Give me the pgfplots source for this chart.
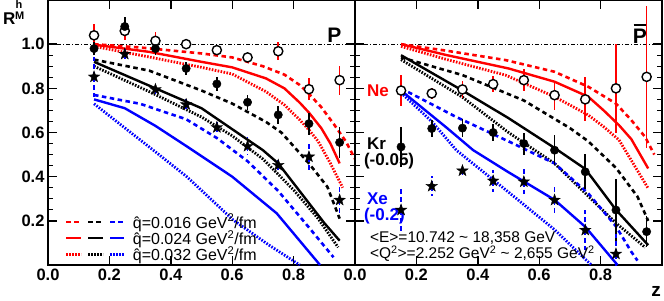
\documentclass[border=0pt]{standalone}
\usepackage{fontspec}
\setmainfont{Liberation Sans}
\usepackage{pgfplots}
\pgfplotsset{compat=1.18}

\pgfdeclareplotmark{fstar}{%
\pgfpathmoveto{\pgfpointpolar{90}{\pgfplotmarksize}}%
\pgfpathlineto{\pgfpointpolar{126}{0.4\pgfplotmarksize}}%
\pgfpathlineto{\pgfpointpolar{162}{\pgfplotmarksize}}%
\pgfpathlineto{\pgfpointpolar{198}{0.4\pgfplotmarksize}}%
\pgfpathlineto{\pgfpointpolar{234}{\pgfplotmarksize}}%
\pgfpathlineto{\pgfpointpolar{270}{0.4\pgfplotmarksize}}%
\pgfpathlineto{\pgfpointpolar{306}{\pgfplotmarksize}}%
\pgfpathlineto{\pgfpointpolar{342}{0.4\pgfplotmarksize}}%
\pgfpathlineto{\pgfpointpolar{18}{\pgfplotmarksize}}%
\pgfpathlineto{\pgfpointpolar{54}{0.4\pgfplotmarksize}}%
\pgfpathclose\pgfusepathqfillstroke}

\tikzset{
 dsh/.style={line width=2.6pt, dash pattern=on 4.5pt off 3.5pt},
 sld/.style={line width=2.4pt},
 dtt/.style={line width=2.8pt, dash pattern=on 1.6pt off 1.4pt},
}

\pgfplotsset{
 panel/.style={
  width=307pt, height=265pt, scale only axis,
  xmin=0, xmax=1, ymin=0, ymax=1.2,
  xtick={0,0.2,0.4,0.6,0.8}, ytick={0.2,0.4,0.6,0.8,1.0},
  minor y tick num=3,
  tick align=inside,
  major tick length=9pt, minor tick length=5pt,
  axis line style={line width=1.6pt},
  every tick/.style={line width=1.4pt, black},
  tick label style={font=\fontsize{16.5}{18}\selectfont\bfseries},
  /pgf/number format/fixed, /pgf/number format/fixed zerofill,
  /pgf/number format/precision=1, /pgf/number format/assume math mode=true,
  clip=true,
 },
 ne/.style={only marks, mark=*, mark size=4.6pt, mark options={fill=white, draw=black, line width=1.4pt},
   error bars/.cd, y dir=both, y explicit, error mark=none, error bar style={red, line width=1.6pt}},
 kr/.style={only marks, black, mark=*, mark size=4.2pt,
   error bars/.cd, y dir=both, y explicit, error mark=none, error bar style={black, line width=1.6pt}},
 xe/.style={only marks, black, mark=fstar, mark size=6pt,
   error bars/.cd, y dir=both, y explicit, error mark=none, error bar style={blue, line width=1.6pt, dash pattern=on 5pt off 3pt}},
}

\begin{document}
\begin{tikzpicture}
\useasboundingbox (-48pt,-35pt) rectangle (616pt,265pt);

% ---------------- left panel (P) ----------------
\begin{axis}[panel, at={(0pt,0pt)},
  legend style={at={(axis cs:0.055,0.004)}, anchor=south west, draw=none, fill=none,
    font=\fontsize{16}{16}\selectfont, row sep=-3.5pt, inner sep=0pt, column sep=5pt},
  legend cell align=left]
\addlegendimage{legend image code/.code={\draw[red,dsh](0pt,0pt)--(15pt,0pt);\draw[black,dsh](22pt,0pt)--(37pt,0pt);\draw[blue,dsh](44pt,0pt)--(58pt,0pt);}}
\addlegendentry{\^q=0.016 GeV\textsuperscript{2}/fm}
\addlegendimage{legend image code/.code={\draw[red,sld](0pt,0pt)--(15pt,0pt);\draw[black,sld](22pt,0pt)--(37pt,0pt);\draw[blue,sld](44pt,0pt)--(58pt,0pt);}}
\addlegendentry{\^q=0.024 GeV\textsuperscript{2}/fm}
\addlegendimage{legend image code/.code={\draw[red,dtt](0pt,0pt)--(15pt,0pt);\draw[black,dtt](22pt,0pt)--(37pt,0pt);\draw[blue,dtt](44pt,0pt)--(58pt,0pt);}}
\addlegendentry{\^q=0.032 GeV\textsuperscript{2}/fm}

\addplot[forget plot, black, line width=0.8pt, dash pattern=on 4pt off 2pt on 1pt off 2pt] coordinates {(0,1)(1,1)};
% Ne
\addplot[forget plot, red, dsh] coordinates {(0.15,1.0)(0.3,0.985)(0.5,0.958)(0.6,0.94)(0.7,0.90)(0.77,0.862)(0.82,0.815)(0.85,0.775)(0.89,0.715)(0.93,0.64)(0.97,0.56)(1.0,0.48)};
\addplot[forget plot, red, sld] coordinates {(0.15,0.998)(0.33,0.965)(0.5,0.92)(0.6,0.895)(0.71,0.845)(0.77,0.80)(0.82,0.735)(0.85,0.69)(0.89,0.62)(0.92,0.55)(0.95,0.46)};
\addplot[forget plot, red, dtt] coordinates {(0.15,0.99)(0.3,0.95)(0.5,0.895)(0.6,0.865)(0.71,0.785)(0.77,0.725)(0.82,0.657)(0.85,0.612)(0.88,0.56)(0.92,0.46)(0.96,0.35)};
% Kr
\addplot[forget plot, black, dsh] coordinates {(0.15,0.93)(0.33,0.88)(0.5,0.79)(0.6,0.731)(0.71,0.648)(0.76,0.60)(0.85,0.46)(0.91,0.354)(0.95,0.21)};
\addplot[forget plot, black, sld] coordinates {(0.15,0.92)(0.35,0.80)(0.5,0.71)(0.6,0.615)(0.7,0.52)(0.75,0.46)(0.8,0.37)(0.85,0.28)(0.9,0.19)(0.95,0.11)};
\addplot[forget plot, black, dtt] coordinates {(0.15,0.90)(0.33,0.785)(0.5,0.67)(0.6,0.585)(0.7,0.48)(0.8,0.34)(0.88,0.21)(0.945,0.08)};
% Xe
\addplot[forget plot, blue, dsh] coordinates {(0.15,0.77)(0.3,0.73)(0.45,0.66)(0.55,0.575)(0.65,0.47)(0.75,0.335)(0.85,0.17)(0.93,0.035)};
\addplot[forget plot, blue, sld] coordinates {(0.15,0.75)(0.25,0.71)(0.35,0.63)(0.46,0.53)(0.6,0.40)(0.745,0.234)(0.886,0.0)};
\addplot[forget plot, blue, dtt] coordinates {(0.15,0.73)(0.26,0.61)(0.343,0.52)(0.452,0.40)(0.603,0.204)(0.72,0.09)(0.82,0.0)};
% data
\addplot[forget plot, ne] table[y error=e]{
x y e
0.15 1.040 0.05
0.25 1.060 0.04
0.35 1.015 0.04
0.45 1.000 0.02
0.55 0.973 0.02
0.65 0.940 0.025
0.75 0.968 0.04
0.85 0.796 0.05
0.95 0.837 0.065
};
\addplot[forget plot, kr] table[y error=e]{
x y e
0.15 0.980 0.03
0.25 1.080 0.045
0.35 0.980 0.03
0.45 0.890 0.03
0.55 0.820 0.03
0.65 0.737 0.035
0.75 0.680 0.04
0.85 0.640 0.05
0.95 0.555 0.07
};
\addplot[forget plot, xe] table[y error=e]{
x y e
0.15 0.852 0.09
0.25 0.955 0.03
0.35 0.795 0.03
0.45 0.727 0.03
0.55 0.623 0.035
0.65 0.538 0.04
0.75 0.452 0.035
0.85 0.490 0.06
0.95 0.294 0.065
};
\node[font=\fontsize{21}{21}\selectfont\bfseries] at (axis cs:0.933,1.038) {P};
\end{axis}

% ---------------- right panel (Pbar) ----------------
\begin{axis}[panel, at={(307pt,0pt)}, yticklabels={}]
\addplot[black, line width=0.8pt, dash pattern=on 4pt off 2pt on 1pt off 2pt] coordinates {(0,1)(1,1)};
% Ne
\addplot[red, dsh] coordinates {(0.15,1.0)(0.3,0.97)(0.49,0.928)(0.65,0.875)(0.76,0.807)(0.85,0.731)(0.9,0.656)(0.945,0.58)(0.975,0.5)};
\addplot[red, sld] coordinates {(0.15,1.0)(0.3,0.95)(0.5,0.89)(0.65,0.83)(0.76,0.762)(0.81,0.70)(0.86,0.633)(0.9,0.57)(0.955,0.437)};
\addplot[red, dtt] coordinates {(0.15,0.99)(0.3,0.93)(0.49,0.86)(0.65,0.762)(0.76,0.679)(0.81,0.626)(0.86,0.566)(0.955,0.347)};
% Kr
\addplot[black, dsh] coordinates {(0.15,0.94)(0.35,0.86)(0.55,0.745)(0.7,0.62)(0.76,0.56)(0.85,0.44)(0.92,0.31)(0.955,0.20)};
\addplot[black, sld] coordinates {(0.15,0.95)(0.35,0.79)(0.5,0.665)(0.65,0.53)(0.75,0.435)(0.85,0.25)(0.955,0.09)};
\addplot[black, dtt] coordinates {(0.15,0.93)(0.35,0.76)(0.5,0.60)(0.65,0.46)(0.85,0.19)(0.945,0.08)};
% Xe
\addplot[blue, dsh] coordinates {(0.15,0.80)(0.33,0.67)(0.5,0.56)(0.65,0.46)(0.76,0.324)(0.85,0.175)(0.9,0.06)(0.92,0.02)};
\addplot[blue, sld] coordinates {(0.15,0.79)(0.3,0.62)(0.385,0.52)(0.5,0.42)(0.65,0.295)(0.75,0.173)(0.855,0.0)};
\addplot[blue, dtt] coordinates {(0.15,0.78)(0.25,0.65)(0.33,0.52)(0.5,0.33)(0.65,0.16)(0.77,0.0)};
% data
\addplot[ne] table[y error=e]{
x y e
0.15 0.790 0.07
0.25 0.777 0.025
0.35 0.795 0.04
0.45 0.819 0.035
0.55 0.837 0.05
0.65 0.769 0.065
0.75 0.750 0.10
0.85 0.800 0.20
0.95 0.852 0.32
};
\addplot[kr] table[y error=e]{
x y e
0.15 0.535 0.09
0.25 0.618 0.04
0.35 0.620 0.04
0.45 0.600 0.04
0.55 0.550 0.05
0.65 0.520 0.068
0.75 0.422 0.08
0.85 0.249 0.14
0.95 0.151 0.07
};
\addplot[xe] table[y error=e]{
x y e
0.15 0.249 0.10
0.25 0.357 0.045
0.35 0.427 0.02
0.45 0.381 0.05
0.55 0.377 0.057
0.65 0.294 0.07
0.75 0.158 0.09
0.85 0.050 0.09
};
\node[inner sep=0pt, font=\fontsize{21}{21}\selectfont\bfseries] (pb) at (axis cs:0.928,1.035) {P};
\draw[line width=2.2pt] ([xshift=1pt,yshift=4pt]pb.north west) -- ([xshift=-1pt,yshift=4pt]pb.north east);
\node[anchor=west, red, font=\fontsize{17}{17}\selectfont\bfseries] at (axis cs:0.028,0.787) {Ne};
\node[anchor=west, font=\fontsize{17}{17}\selectfont\bfseries] at (axis cs:0.028,0.548) {Kr};
\node[anchor=west, font=\fontsize{17}{17}\selectfont\bfseries] at (axis cs:0.018,0.472) {(-0.05)};
\node[anchor=west, blue, font=\fontsize{17}{17}\selectfont\bfseries] at (axis cs:0.028,0.300) {Xe};
\node[anchor=west, blue, font=\fontsize{17}{17}\selectfont\bfseries] at (axis cs:0.018,0.222) {(-0.2)};
\node[anchor=west, inner sep=1pt, font=\fontsize{15.5}{15.5}\selectfont] at (axis cs:0.045,0.124) {<E>=10.742 \textasciitilde{} 18,358 GeV};
\node[anchor=west, inner sep=1pt, font=\fontsize{15.5}{15.5}\selectfont] at (axis cs:0.045,0.050) {<Q\textsuperscript{2}>=2.252 GeV\textsuperscript{2} \textasciitilde{} 2,655 GeV\textsuperscript{2}};
\end{axis}

% axis labels
\node[font=\fontsize{17}{17}\selectfont\bfseries, inner sep=0pt, anchor=base west] at (-45pt,240pt) {R};
\node[font=\fontsize{11}{11}\selectfont\bfseries, inner sep=0pt, anchor=base west] at (-32.5pt,256.5pt) {h};
\node[font=\fontsize{11}{11}\selectfont\bfseries, inner sep=0pt, anchor=base west] at (-33pt,245.5pt) {M};
\node[font=\fontsize{19}{19}\selectfont\bfseries, inner sep=0pt, anchor=base east] at (613pt,-31pt) {z};
\end{tikzpicture}
\end{document}
